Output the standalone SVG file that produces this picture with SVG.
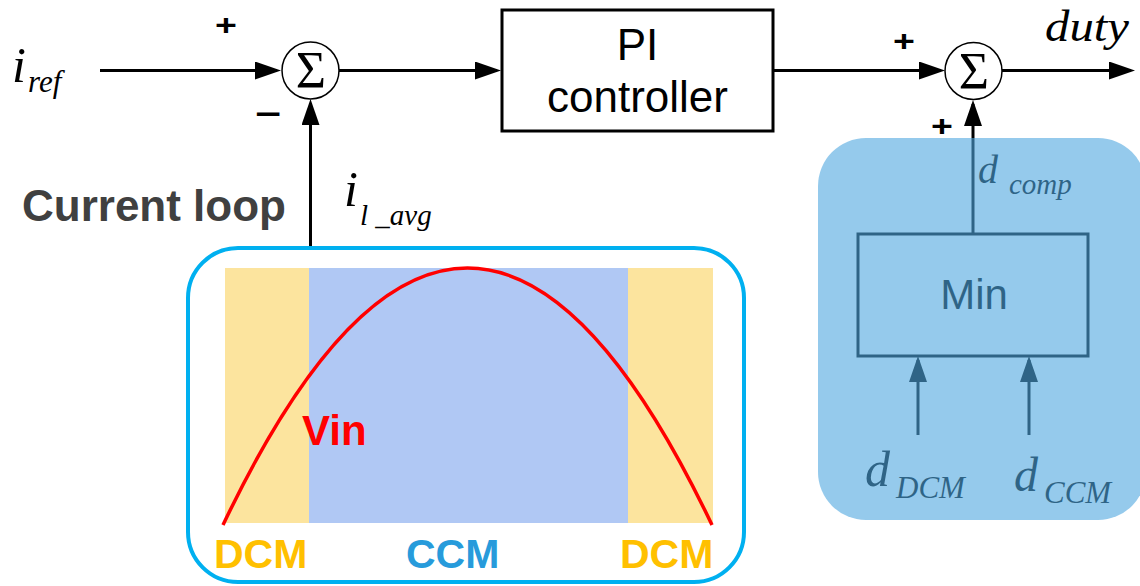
<svg xmlns="http://www.w3.org/2000/svg" width="1140" height="586" viewBox="0 0 1140 586">
  <defs>
    <marker id="arrow" viewBox="0 0 26 18" refX="22" refY="9" markerWidth="26" markerHeight="18" markerUnits="userSpaceOnUse" orient="auto">
      <path d="M0,0 L26,9 L0,18 z" fill="#000"/>
    </marker>
    <style>
      .wire { stroke: #000; stroke-width: 3; fill: none; marker-end: url(#arrow); }
      .sum { fill: #fff; stroke: #000; stroke-width: 1.5; }
      .sigma { font-family: "Liberation Serif", serif; font-size: 52px; text-anchor: middle; fill: #000; }
      .math { font-family: "Liberation Serif", serif; font-style: italic; fill: #000; }
      .sign { font-family: "Liberation Sans", Arial, sans-serif; font-weight: bold; font-size: 30px; fill: #000; text-anchor: middle; }
      .block { fill: #fff; stroke: #000; stroke-width: 3; }
      .label { font-family: "Liberation Sans", Arial, sans-serif; fill: #000; }
      .bold { font-family: "Liberation Sans", Arial, sans-serif; font-weight: bold; }
    </style>
  </defs>

  <!-- signal connectors -->
  <g id="connectors">
    <line class="wire" x1="100" y1="70.5" x2="277" y2="70.5"/>
    <line class="wire" x1="339" y1="70.5" x2="497" y2="70.5"/>
    <line class="wire" x1="773" y1="70.5" x2="941" y2="70.5"/>
    <line class="wire" x1="1002" y1="70.5" x2="1131" y2="70.5"/>
    <line class="wire" x1="310.5" y1="257" x2="310.5" y2="103"/>
    <line class="wire" x1="973" y1="234" x2="973" y2="104"/>
    <line class="wire" x1="918" y1="435" x2="918" y2="360"/>
    <line class="wire" x1="1029" y1="435" x2="1029" y2="360"/>
  </g>

  <!-- input reference and feedback labels -->
  <g id="iref">
    <text class="math" x="12" y="82" font-size="50">i</text>
    <text class="math" x="28" y="92" font-size="31">ref</text>
  </g>
  <text class="sign" transform="translate(226 35) scale(1.25 1)">+</text>
  <text class="sign" transform="translate(268.5 124) scale(1.5 1)">−</text>

  <!-- first summing junction -->
  <g id="sum1">
    <circle class="sum" cx="310.5" cy="70.5" r="28.5"/>
    <text class="sigma" x="311" y="88">Σ</text>
  </g>

  <!-- PI controller -->
  <g id="pi">
    <rect class="block" x="502" y="10" width="271" height="121"/>
    <text class="label" x="637.5" y="60" font-size="44" text-anchor="middle">PI</text>
    <text class="label" x="637.5" y="112" font-size="44" text-anchor="middle">controller</text>
  </g>

  <!-- second summing junction and output -->
  <g id="sum2">
    <circle class="sum" cx="973.5" cy="71" r="28.5"/>
    <text class="sigma" x="974" y="88.5">Σ</text>
  </g>
  <text class="sign" transform="translate(904 51) scale(1.25 1)">+</text>
  <text class="sign" transform="translate(942 136) scale(1.25 1)">+</text>
  <text class="math" x="1045" y="41" font-size="44" textLength="84" lengthAdjust="spacingAndGlyphs">duty</text>

  <!-- current loop label -->
  <text class="bold" x="22" y="221" font-size="44" fill="#404040">Current loop</text>
  <g id="iavg">
    <text class="math" x="344" y="206" font-size="50">i</text>
    <text class="math" x="360" y="225" font-size="29">l _avg</text>
  </g>

  <!-- input voltage half-wave with operating regions -->
  <g id="vin-plot">
    <rect x="188" y="248" width="556" height="334" rx="50" fill="#fff" stroke="#00B0F0" stroke-width="4"/>
    <rect x="225" y="268" width="488" height="255" fill="#FCE49E"/>
    <rect x="309" y="268" width="319" height="255" fill="#B0C8F4"/>
    <path d="M223,525 Q467.5,11 712,525" fill="none" stroke="#FF0000" stroke-width="3.5"/>
    <text class="bold" x="302" y="445" font-size="42" fill="#FF0000">Vin</text>
    <text class="bold" x="214" y="568" font-size="41" fill="#FFC000">DCM</text>
    <text class="bold" x="406" y="568" font-size="41" fill="#279BDB">CCM</text>
    <text class="bold" x="620" y="568" font-size="41" fill="#FFC000">DCM</text>
  </g>

  <!-- duty compensation: minimum selector -->
  <g id="min">
    <rect x="858" y="234" width="230" height="122" fill="none" stroke="#000" stroke-width="3"/>
    <text class="label" x="974" y="309" font-size="42" text-anchor="middle">Min</text>
  </g>
  <g id="dcomp">
    <text class="math" x="978" y="183" font-size="40">d</text>
    <text class="math" x="1009" y="194" font-size="29">comp</text>
  </g>
  <g id="ddcm">
    <text class="math" x="865" y="486" font-size="50">d</text>
    <text class="math" x="896" y="498" font-size="31">DCM</text>
  </g>
  <g id="dccm">
    <text class="math" x="1014" y="491" font-size="48">d</text>
    <text class="math" x="1044" y="503" font-size="31">CCM</text>
  </g>

  <!-- translucent panel tinting the compensation block -->
  <rect id="comp-panel" x="818" y="138" width="328" height="382" rx="48" fill="#4EA7DF" fill-opacity="0.6"/>
</svg>
